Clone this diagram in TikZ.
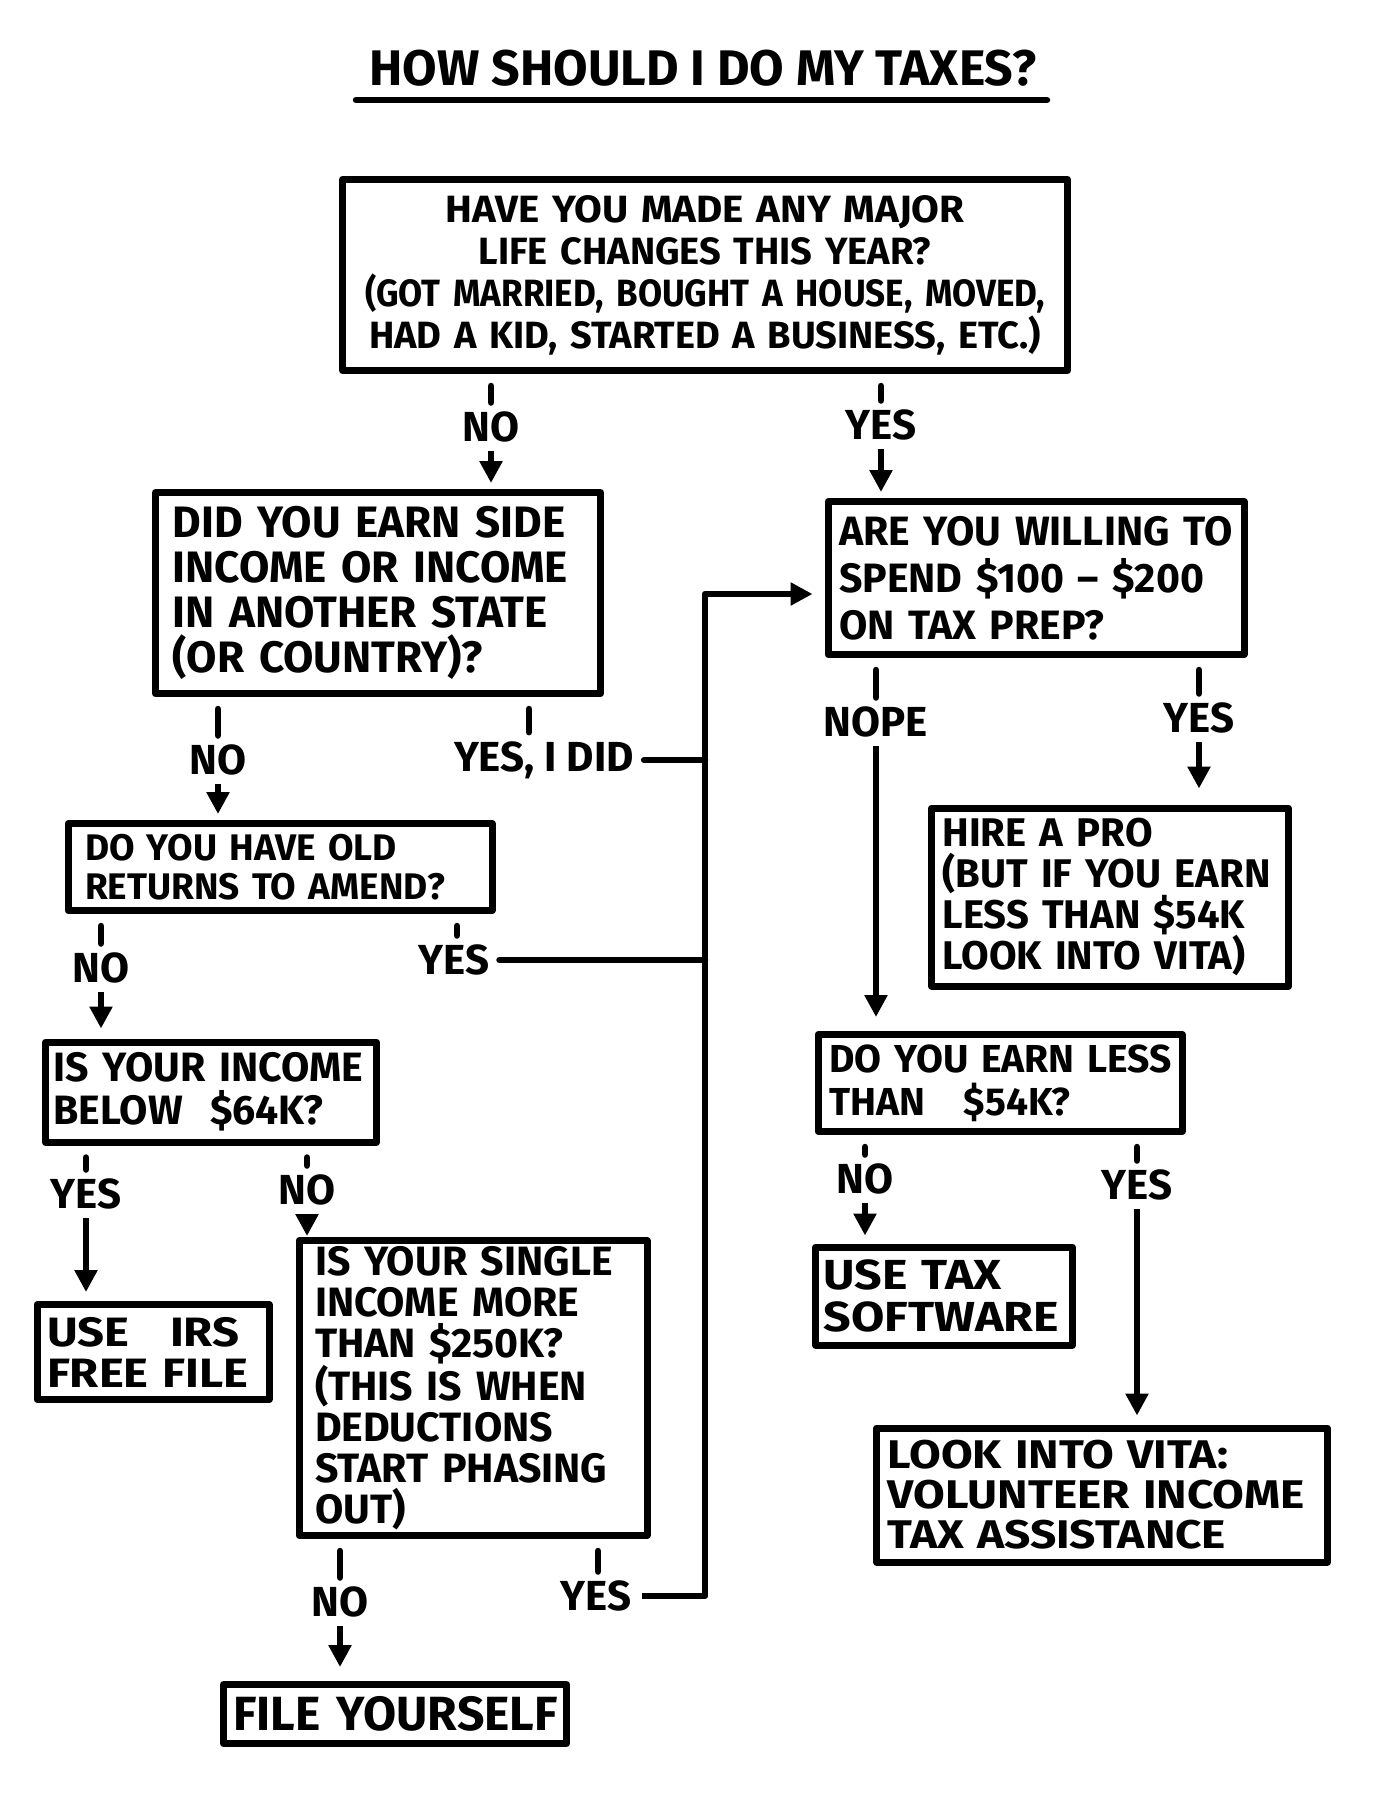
\documentclass[tikz,border=0pt]{standalone}
\usepackage{fontspec}
\setmainfont{Fira Sans}
\newfontfamily\hw{Fira Sans}[FakeStretch=1.15]
\newfontfamily\hm{Fira Sans}[FakeStretch=1.06]
\newfontfamily\hn{Fira Sans}[FakeStretch=0.92]
\usetikzlibrary{arrows.meta}
\newcommand\myfs[2]{\fontsize{#1}{#2}\selectfont\bfseries}
\begin{document}
\begin{tikzpicture}[x=1pt,y=-1pt,
  box/.style={draw, line width=7pt, line join=round, inner ysep=0pt, align=left},
  lbl/.style={inner xsep=8pt, inner ysep=9pt, font=\myfs{42}{44}},
  ln/.style={line width=6.5pt, line cap=round, line join=round},
  tick/.style={ln, shorten <=12pt},
  arr/.style={line width=6.5pt, line join=round, -{Triangle[length=22pt,width=22pt]}, shorten >=6pt},
]
\useasboundingbox[fill=white] (0,0) rectangle (1393,1800);

% title
\node[font=\myfs{50}{52}] (title) at (703,68) {HOW SHOULD I DO MY TAXES?};
\draw[ln] (356,100) -- (1047,100);

% boxes
\node[box, minimum width=725pt, minimum height=191pt, inner xsep=4pt, text width=717pt, align=center, font=\myfs{38}{42}] (b1) at (705,275)
  {\mbox{\hm HAVE YOU MADE ANY MAJOR}\\\mbox{LIFE CHANGES THIS YEAR?}\\\mbox{\hn (GOT MARRIED, BOUGHT A HOUSE, MOVED,}\\\mbox{HAD A KID, STARTED A BUSINESS, ETC.)}};
\node[box, minimum width=445pt, minimum height=201pt, inner xsep=17pt, text width=411pt, font=\myfs{44}{45}] (b2) at (378,593)
  {\mbox{DID YOU EARN SIDE}\\\mbox{INCOME OR INCOME}\\\mbox{IN ANOTHER STATE}\\\mbox{(OR COUNTRY)?}};
\node[box, minimum width=416pt, minimum height=153pt, inner xsep=11pt, text width=394pt, font=\myfs{41}{47}] (b3) at (1036,578)
  {\mbox{ARE YOU WILLING TO}\\\mbox{SPEND \$100 -- \$200}\\\mbox{ON TAX PREP?}};
\node[box, minimum width=424pt, minimum height=87pt, inner xsep=17pt, text width=390pt, font=\myfs{37}{39}] (b4) at (280,867)
  {\mbox{DO YOU HAVE OLD}\\\mbox{RETURNS TO AMEND?}};
\node[box, minimum width=357pt, minimum height=178pt, inner xsep=11pt, text width=335pt, font=\myfs{40}{41}] (b5) at (1110,897)
  {\mbox{HIRE A PRO}\\\mbox{(BUT IF YOU EARN}\\\mbox{LESS THAN \$54K}\\\mbox{LOOK INTO VITA)}};
\node[box, minimum width=331pt, minimum height=100pt, inner xsep=8pt, text width=315pt, font=\myfs{41}{43}] (b6) at (211,1092)
  {\mbox{IS YOUR INCOME}\\\mbox{BELOW \ \$64K?}};
\node[box, minimum width=364pt, minimum height=97pt, inner xsep=11pt, text width=342pt, font=\myfs{39}{43}] (b7) at (1000,1083)
  {\mbox{DO YOU EARN LESS}\\\mbox{THAN \ \ \$54K?}};
\node[box, minimum width=232pt, minimum height=95pt, inner xsep=10pt, text width=212pt, font=\hw\myfs{41}{41}] (b8) at (153,1352)
  {\mbox{USE \ \ IRS}\\\mbox{FREE FILE}};
\node[box, minimum width=348pt, minimum height=295pt, inner xsep=16pt, text width=316pt, font=\myfs{41}{41}] (b9) at (473,1388)
  {\mbox{IS YOUR SINGLE}\\\mbox{INCOME MORE}\\\mbox{THAN \$250K?}\\\mbox{(THIS IS WHEN}\\\mbox{DEDUCTIONS}\\\mbox{START PHASING}\\\mbox{OUT)}};
\node[box, minimum width=257pt, minimum height=98pt, inner xsep=8pt, text width=241pt, font=\hw\myfs{42}{42}] (b10) at (944,1296)
  {\mbox{USE TAX}\\\mbox{SOFTWARE}};
\node[box, minimum width=451pt, minimum height=134pt, inner xsep=11pt, text width=429pt, font=\hw\myfs{40}{40}] (b11) at (1102,1495)
  {\mbox{LOOK INTO VITA:}\\\mbox{VOLUNTEER INCOME}\\\mbox{TAX ASSISTANCE}};
\node[box, minimum width=343pt, minimum height=59pt, inner xsep=10pt, text width=323pt, font=\myfs{48}{48}] (b12) at (395,1714)
  {\mbox{FILE YOURSELF}};

% trunk coordinate
\coordinate (jt) at (705,594);

% labels
\node[lbl] (l1) at (491,427) {NO};
\node[lbl] (l2) at (881,425) {YES};
\node[lbl] (l3) at (218,760) {NO};
\node[lbl] (l4) at (544,760) {YES, I DID};
\node[lbl] (l5) at (101,968) {NO};
\node[lbl] (l6) at (454,960) {YES};
\node[lbl] (l7) at (876,722) {NOPE};
\node[lbl] (l8) at (1199,718) {YES};
\node[lbl] (l9) at (86,1194) {YES};
\node[lbl] (l10) at (307,1190) {NO};
\node[lbl] (l11) at (865,1179) {NO};
\node[lbl] (l12) at (1137,1185) {YES};
\node[lbl] (l13) at (340,1602) {NO};
\node[lbl] (l14) at (596,1596) {YES};

% b1
\draw[tick] (b1.south -| l1.north) -- (l1.north);
\draw[arr] (l1.south) -- (l1.south |- b2.north);
\draw[tick] (b1.south -| l2.north) -- (l2.north);
\draw[arr] (l2.south) -- (l2.south |- b3.north);
% b2
\draw[tick] (b2.south -| l3.north) -- (l3.north);
\draw[arr] (l3.south) -- (l3.south |- b4.north);
\draw[tick] ([xshift=-15pt]l4.north |- b2.south) -- ([xshift=-15pt]l4.north);
\draw[ln, shorten <=2pt] (l4.east) -- (l4.east -| jt);
% b4
\draw[tick] (b4.south -| l5.north) -- (l5.north);
\draw[arr, shorten >=10pt] (l5.south) -- (l5.south |- b6.north);
\draw[tick] ([xshift=3pt]l6.north |- b4.south) -- ([xshift=3pt]l6.north);
\draw[ln, shorten <=2pt] (l6.east) -- (l6.east -| jt);
% b3
\draw[tick] (b3.south -| l7.north) -- (l7.north);
\draw[arr, shorten >=14pt] (l7.south) -- (l7.south |- b7.north);
\draw[tick] (b3.south -| l8.north) -- (l8.north);
\draw[arr, shorten >=16pt] (l8.south) -- (l8.south |- b5.north);
% b6
\draw[tick] (b6.south -| l9.north) -- (l9.north);
\draw[arr, shorten >=9pt] (l9.south) -- (l9.south |- b8.north);
\draw[tick] (b6.south -| l10.north) -- (l10.north);
\draw[arr, shorten >=1pt] (l10.south) -- (l10.south |- b9.north);
% b7
\draw[tick] (b7.south -| l11.north) -- (l11.north);
\draw[arr, shorten >=8pt] (l11.south) -- (l11.south |- b10.north);
\draw[tick] (b7.south -| l12.north) -- (l12.north);
\draw[arr, shorten >=9pt] (l12.south) -- (l12.south |- b11.north);
% b9
\draw[tick] (b9.south -| l13.north) -- (l13.north);
\draw[arr, shorten >=14pt] (l13.south) -- (l13.south |- b12.north);
\draw[tick] ([xshift=2pt]l14.north |- b9.south) -- ([xshift=2pt]l14.north);
% trunk into b3
\draw[arr, shorten <=2pt, shorten >=12pt] (l14.east) -- (l14.east -| jt) -- (jt) -- (jt -| b3.west);
\end{tikzpicture}
\end{document}
